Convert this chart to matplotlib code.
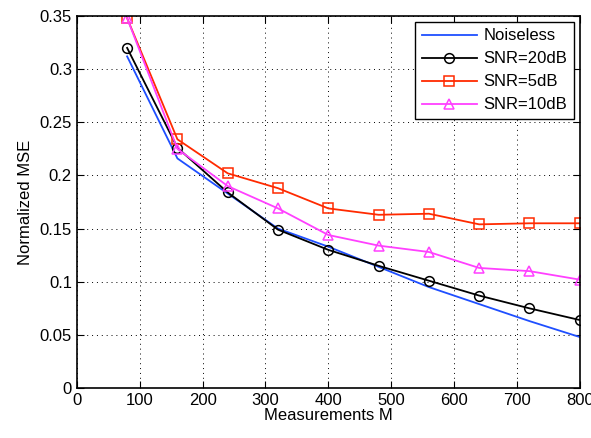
import matplotlib
matplotlib.use("Agg")
import matplotlib.pyplot as plt

plt.rcParams['font.family'] = ['Liberation Sans', 'DejaVu Sans']

M = [80, 160, 240, 320, 400, 480, 560, 640, 720, 800]
noiseless = [0.312, 0.216, 0.183, 0.150, 0.133, 0.114, 0.095, 0.079, 0.063, 0.048]
snr20 = [0.320, 0.226, 0.184, 0.149, 0.130, 0.115, 0.101, 0.087, 0.075, 0.064]
snr5 = [0.348, 0.234, 0.202, 0.188, 0.169, 0.163, 0.164, 0.154, 0.155, 0.155]
snr10 = [0.348, 0.225, 0.190, 0.169, 0.144, 0.134, 0.128, 0.113, 0.110, 0.102]

fig = plt.figure(figsize=(5.91, 4.38), dpi=100)
ax = fig.add_axes([0.130, 0.114, 0.851, 0.8495])

ax.plot(M, noiseless, color='#1f4fff', lw=1.3, label='Noiseless')
ax.plot(M, snr20, color='black', lw=1.3, marker='o', ms=7, mfc='none', mew=1.1, label='SNR=20dB')
ax.plot(M, snr5, color='#ff2a00', lw=1.3, marker='s', ms=6.5, mfc='none', mew=1.1, label='SNR=5dB')
ax.plot(M, snr10, color='#ff40ff', lw=1.3, marker='^', ms=7.5, mfc='none', mew=1.1, label='SNR=10dB')

ax.set_xlim(0, 800)
ax.set_ylim(0, 0.35)
ax.set_xticks(range(0, 801, 100))
ax.set_yticks([0, 0.05, 0.1, 0.15, 0.2, 0.25, 0.3, 0.35])
ax.set_yticklabels(['0', '0.05', '0.1', '0.15', '0.2', '0.25', '0.3', '0.35'])
ax.grid(True, linestyle=(0, (1, 4)), color='black', lw=0.7)
ax.tick_params(direction='in', labelsize=12, top=True, right=True, length=5)
for s in ax.spines.values():
    s.set_linewidth(1.2)
ax.set_xlabel('Measurements M', fontsize=12, labelpad=0)
ax.set_ylabel('Normalized MSE', fontsize=12, labelpad=5)

leg = ax.legend(loc='upper right', fontsize=12, fancybox=False, framealpha=1,
                edgecolor='black', borderaxespad=0.35, handlelength=3.3,
                handletextpad=0.4, labelspacing=0.48, borderpad=0.4)
leg.get_frame().set_linewidth(1.0)

fig.savefig('out.png', dpi=100)
